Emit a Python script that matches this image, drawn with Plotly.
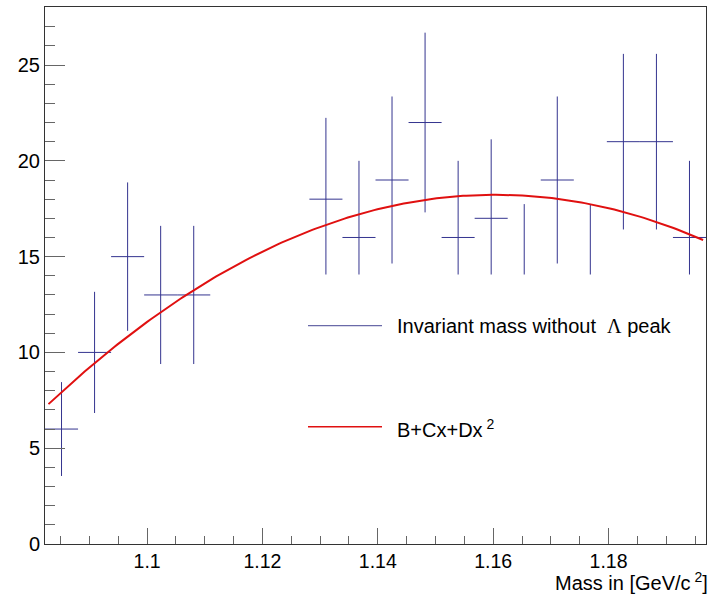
import numpy as np
import plotly.graph_objects as go

# ---- data ----
hist_lo = 1.0823
hist_hi = 1.1969
n_bins = 20
counts = [6, 10, 15, 13, 13, 0, 0, 0, 18, 16, 19, 22, 16, 17, 14, 19, 14, 21, 21, 16]
fit_params = {"B": -2433.30, "C": 4225.40, "D": -1820.70}
fit_range = [1.0829, 1.1964]
y_ticks = [0, 5, 10, 15, 20, 25]
x_ticks = [1.10, 1.12, 1.14, 1.16, 1.18]
x_tick_labels = ["1.1", "1.12", "1.14", "1.16", "1.18"]
hist_label = "Invariant mass without  <span style=\"font-family:Liberation Serif\">Λ</span> peak"
fit_label = "B+Cx+Dx<sup> 2</sup>"
x_title = "Mass in [GeV/c<sup> 2</sup>]"

# ---- derived ----
bw = (hist_hi - hist_lo) / n_bins
centers = [hist_lo + (i + 0.5) * bw for i in range(n_bins)]
xs = [c for c, n in zip(centers, counts) if n > 0]
ys = [n for n in counts if n > 0]
errs = [float(np.sqrt(n)) for n in ys]

xf = np.linspace(fit_range[0], fit_range[1], 200)
yf = fit_params["B"] + fit_params["C"] * xf + fit_params["D"] * xf ** 2

BLUE = "#34348f"
RED = "#e01010"
FONT = "Liberation Sans, Arial, sans-serif"

fig = go.Figure()
fig.add_trace(go.Scatter(
    x=xs, y=ys, mode="markers",
    marker=dict(size=1, color="rgba(0,0,0,0)"),
    error_y=dict(type="data", array=errs, visible=True, color=BLUE, thickness=1, width=0),
    error_x=dict(type="constant", value=bw / 2, visible=True, color=BLUE, thickness=1, width=0),
    showlegend=False, hoverinfo="skip",
))
fig.add_trace(go.Scatter(
    x=xf, y=yf, mode="lines", line=dict(color=RED, width=2),
    showlegend=False, hoverinfo="skip",
))

# legend box (white, covers part of the plot like ROOT's TLegend)
def px2x(px):
    return (px - 45) / 661.0

def px2y(py):
    return (544 - py) / 537.0

shapes = [
    dict(type="rect", xref="paper", yref="paper", x0=px2x(290), x1=px2x(700),
         y0=px2y(475), y1=px2y(274.6), fillcolor="white", line=dict(width=0), layer="above"),
    dict(type="line", xref="paper", yref="paper", x0=px2x(308), x1=px2x(382),
         y0=px2y(325.7), y1=px2y(325.7), line=dict(color="#6a6aa8", width=1.2), layer="above"),
    dict(type="line", xref="paper", yref="paper", x0=px2x(308), x1=px2x(382),
         y0=px2y(426.7), y1=px2y(426.7), line=dict(color=RED, width=1.5), layer="above"),
]
annotations = [
    dict(xref="paper", yref="paper", x=px2x(395), y=px2y(325.5), text=hist_label,
         showarrow=False, xanchor="left", yanchor="middle",
         font=dict(family=FONT, size=20, color="black")),
    dict(xref="paper", yref="paper", x=px2x(395), y=px2y(428), text=fit_label,
         showarrow=False, xanchor="left", yanchor="middle",
         font=dict(family=FONT, size=20, color="black")),
    dict(xref="paper", yref="paper", x=1.0, y=px2y(595), text=x_title, xshift=3,
         showarrow=False, xanchor="right", yanchor="bottom", borderpad=0,
         font=dict(family=FONT, size=20, color="black")),
]

fig.update_layout(
    width=710, height=594, autosize=False,
    margin=dict(l=45, r=4, t=7, b=50),
    paper_bgcolor="white", plot_bgcolor="white",
    font=dict(family=FONT, size=19.5, color="black"),
    shapes=shapes, annotations=annotations,
)
fig.update_xaxes(
    range=[hist_lo, hist_hi], showgrid=False, zeroline=False,
    showline=True, mirror=True, linecolor="#333333", linewidth=1,
    tickmode="array", tickvals=x_ticks, ticktext=x_tick_labels,
    ticks="inside", ticklen=16, tickcolor="#666666", tickwidth=1,
    minor=dict(ticks="inside", ticklen=8, tickmode="linear", tick0=1.0, dtick=0.005,
               tickcolor="#666666", tickwidth=1, showgrid=False),
    tickfont=dict(family=FONT, size=19.5, color="black"),
)
fig.update_yaxes(
    range=[0, 28.03], showgrid=False, zeroline=False,
    showline=True, mirror=True, linecolor="#333333", linewidth=1,
    tickmode="array", tickvals=y_ticks,
    ticks="inside", ticklen=20, tickcolor="#666666", tickwidth=1,
    minor=dict(ticks="inside", ticklen=10, tickmode="linear", tick0=0, dtick=1,
               tickcolor="#666666", tickwidth=1, showgrid=False),
    tickfont=dict(family=FONT, size=20, color="black"),
)

fig.write_html("out.html")
